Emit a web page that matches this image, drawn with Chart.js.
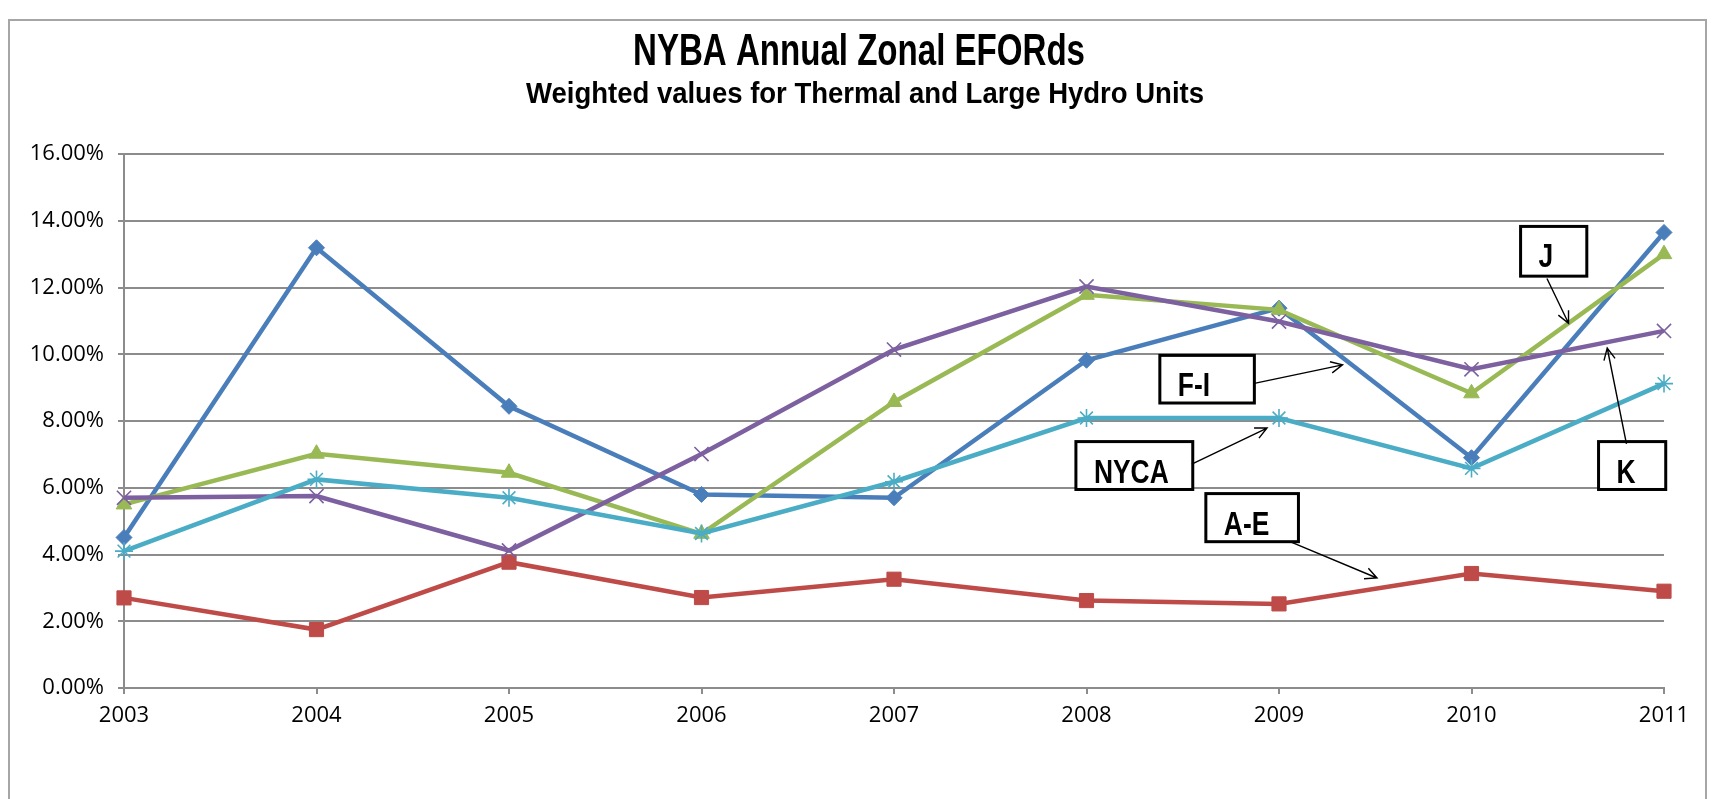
<!DOCTYPE html>
<html>
<head>
<meta charset="utf-8">
<script src="https://cdn.jsdelivr.net/npm/chart.js@4.4.1/dist/chart.umd.min.js"></script>
<style>
html,body{margin:0;padding:0;background:#fff;}
#wrap{width:1716px;height:799px;position:relative;}
</style>
</head>
<body>
<div id="wrap"><canvas id="c" width="1716" height="799"></canvas></div>
<script>
// ---- data ----
const years = ['2003','2004','2005','2006','2007','2008','2009','2010','2011'];
const fiValues   = [4.51, 13.19, 8.44, 5.80, 5.70, 9.82, 11.38, 6.90, 13.65];
const aeValues   = [2.70, 1.75, 3.77, 2.71, 3.26, 2.62, 2.52, 3.43, 2.90];
const jValues    = [5.50, 7.02, 6.45, 4.62, 8.57, 11.78, 11.33, 8.83, 13.00];
const kValues    = [5.70, 5.75, 4.12, 7.01, 10.14, 12.03, 10.98, 9.55, 10.70];
const nycaValues = [4.10, 6.25, 5.70, 4.63, 6.18, 8.09, 8.09, 6.58, 9.12];
const yMin = 0, yMax = 16, yStep = 2;
const titleText = 'NYBA Annual Zonal EFORds';
const subtitleText = 'Weighted values for Thermal and Large Hydro Units';

// callouts in data space: box [x0,yTop,x1,yBottom], arrow from -> to
const callouts = [
  {label:'J',    box:[7.255,13.83,7.599,12.34], from:[7.392,12.27], to:[7.504,10.93]},
  {label:'F-I',  box:[5.381,9.966,5.872,8.539], from:[5.872,9.127], to:[6.330,9.681]},
  {label:'NYCA', box:[4.945,7.383,5.552,5.948], from:[5.547,6.706], to:[5.938,7.790]},
  {label:'K',    box:[7.660,7.383,8.009,5.948], from:[7.805,7.314], to:[7.705,10.187]},
  {label:'A-E',  box:[5.620,5.825,6.101,4.384], from:[6.057,4.384], to:[6.509,3.296]}
];

const GRID = '#8c8c8c';
const TICKFONT = {family:'"Open Sans", sans-serif', size:22};
const BOLDFACE = '"Liberation Sans", Arial, sans-serif';

function squeezedText(ctx, text, x, y, font, align, sx, targetW){
  ctx.save();
  ctx.font = font;
  if (targetW) sx = targetW / ctx.measureText(text).width;
  ctx.translate(x, y);
  ctx.scale(sx, 1);
  ctx.textAlign = align;
  ctx.textBaseline = 'alphabetic';
  ctx.fillText(text, 0, 0);
  ctx.restore();
}

const framePlugin = {
  id:'frame',
  beforeDraw(chart){
    const ctx = chart.ctx;
    ctx.save();
    ctx.fillStyle = '#fff';
    ctx.fillRect(0,0,chart.width,chart.height);
    ctx.strokeStyle = '#a6a6a6';
    ctx.lineWidth = 2;
    ctx.strokeRect(9, 20, 1697, 900);
    ctx.fillStyle = '#000';
    squeezedText(ctx, titleText, 859, 65, 'bold 44px ' + BOLDFACE, 'center', 1, 452);
    squeezedText(ctx, subtitleText, 865, 103, 'bold 30px ' + BOLDFACE, 'center', 1, 678);
    ctx.restore();
  }
};

function drawArrow(ctx, x0, y0, x1, y1){
  ctx.beginPath();
  ctx.moveTo(x0,y0); ctx.lineTo(x1,y1);
  const a = Math.atan2(y1-y0, x1-x0);
  const L = 13, h = 0.45;
  ctx.moveTo(x1 - L*Math.cos(a-h), y1 - L*Math.sin(a-h));
  ctx.lineTo(x1,y1);
  ctx.lineTo(x1 - L*Math.cos(a+h), y1 - L*Math.sin(a+h));
  ctx.stroke();
}

const calloutPlugin = {
  id:'callouts',
  afterDatasetsDraw(chart){
    const ctx = chart.ctx, xs = chart.scales.x, ys = chart.scales.y;
    const px = v => xs.getPixelForValue(v);
    const py = v => ys.getPixelForValue(v);
    ctx.save();
    callouts.forEach(c=>{
      const x0 = px(c.box[0]), y0 = py(c.box[1]), x1 = px(c.box[2]), y1 = py(c.box[3]);
      ctx.fillStyle = '#fff';
      ctx.fillRect(x0,y0,x1-x0,y1-y0);
      ctx.strokeStyle = '#000';
      ctx.lineWidth = 3;
      ctx.strokeRect(x0,y0,x1-x0,y1-y0);
      ctx.fillStyle = '#000';
      squeezedText(ctx, c.label, x0 + 18, y0 + 41, 'bold 33px ' + BOLDFACE, 'left', 0.8);
      ctx.lineWidth = 1.4;
      drawArrow(ctx, px(c.from[0]), py(c.from[1]), px(c.to[0]), py(c.to[1]));
    });
    ctx.restore();
  }
};

function ds(label, data, color, style, radius, bw, order){
  return {
    label, data, borderColor: color, backgroundColor: color,
    borderWidth: 4.5, tension: 0, fill:false,
    pointStyle: style, pointRadius: radius, pointBorderWidth: bw,
    pointBackgroundColor: color, pointBorderColor: color, order
  };
}

new Chart(document.getElementById('c'), {
  type:'line',
  data:{
    labels: years,
    datasets:[
      ds('F-I',  fiValues,   '#4a7ebb', 'rectRot', 8, 1, 5),
      ds('A-E',  aeValues,   '#be4b48', 'rect', 10, 1, 4),
      ds('J',    jValues,    '#98b954', 'triangle', 9, 1, 3),
      ds('K',    kValues,    '#7d60a0', 'crossRot', 10, 1.6, 2),
      ds('NYCA', nycaValues, '#4bacc6', 'star', 9, 1.6, 1)
    ]
  },
  options:{
    responsive:false,
    devicePixelRatio:1,
    animation:false,
    layout:{padding:{top:154, right:52, left:0, bottom:0}},
    plugins:{legend:{display:false}, tooltip:{enabled:false}, title:{display:false}},
    scales:{
      x:{
        type:'category', offset:false,
        grid:{display:true, drawOnChartArea:false, drawTicks:true, tickLength:6, color:GRID, lineWidth:2},
        border:{display:true, color:GRID, width:2},
        ticks:{font:TICKFONT, color:'#000', padding:9, maxRotation:0, autoSkip:false},
        afterFit(s){ s.height = 111; }
      },
      y:{
        min:yMin, max:yMax,
        grid:{color:GRID, lineWidth:2, tickLength:6, drawTicks:true},
        border:{display:true, color:GRID, width:2},
        ticks:{stepSize:yStep, font:TICKFONT, color:'#000', padding:14,
               callback:v=>v.toFixed(2)+'%'},
        afterFit(s){ s.width = 124; }
      }
    }
  },
  plugins:[framePlugin, calloutPlugin]
});
</script>
</body>
</html>
